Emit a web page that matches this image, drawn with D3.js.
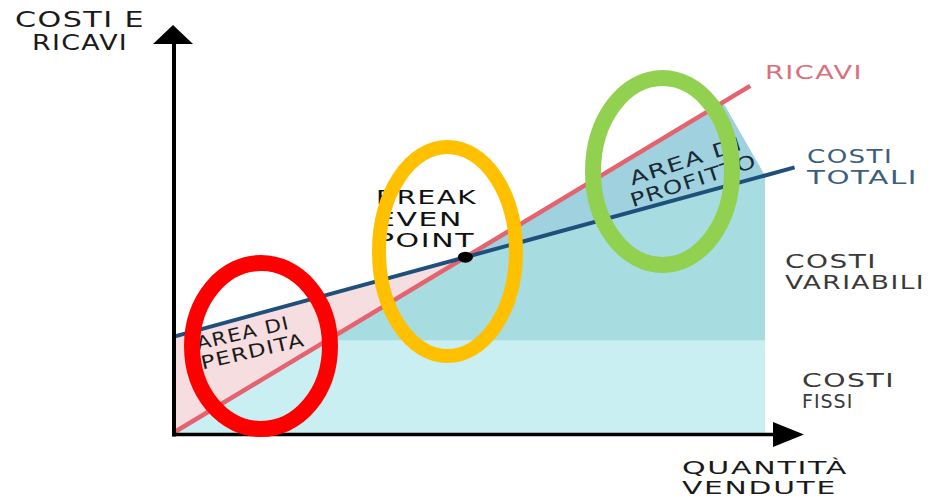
<!DOCTYPE html>
<html lang="it">
<head>
    <meta charset="UTF-8">
    <title>Break Even Point</title>
    <script src="https://cdn.jsdelivr.net/npm/d3@7"></script>
    <style>
        body { margin: 0; background: #fff; }
        svg { display: block; font-family: "DejaVu Sans", sans-serif; }
    </style>
</head>
<body>
    <div id="chart"></div>

    <script>
        // Valori (quantità 0-100, valore 0-100)
        const quantityDomain = [0, 100];
        const valueDomain = [0, 100];
        const ricavi = [{q: 0, v: 0}, {q: 97.5, v: 97.5}];
        const costiTotali = [{q: 0, v: 27}, {q: 105, v: 74.6}];
        const costiFissi = [{q: 0, v: 26}, {q: 100, v: 26}];
        // l'area di profitto è tagliata prima del bordo destro
        const taglioProfitto = [92.9, 100];

        const width = 936, height = 498;

        const svg = d3.select("#chart").append("svg")
            .attr("width", width)
            .attr("height", height);

        const x = d3.scaleLinear().domain(quantityDomain).range([173, 765]);
        const y = d3.scaleLinear().domain(valueDomain).range([433, 77]);

        // linee come funzioni lineari
        const ricaviAt = d3.scaleLinear().domain(ricavi.map(d => d.q)).range(ricavi.map(d => d.v));
        const costiAt = d3.scaleLinear().domain(costiTotali.map(d => d.q)).range(costiTotali.map(d => d.v));
        const fissiAt = d3.scaleLinear().domain(costiFissi.map(d => d.q)).range(costiFissi.map(d => d.v));

        // break even: intersezione delle due rette
        const sR = (ricavi[1].v - ricavi[0].v) / (ricavi[1].q - ricavi[0].q);
        const sC = (costiTotali[1].v - costiTotali[0].v) / (costiTotali[1].q - costiTotali[0].q);
        const bepQ = (costiTotali[0].v - ricavi[0].v) / (sR - sC);
        const bep = {q: bepQ, v: ricaviAt(bepQ)};

        // costi fissi
        svg.append("rect")
            .attr("x", x(quantityDomain[0]))
            .attr("y", y(costiFissi[0].v))
            .attr("width", x(quantityDomain[1]) - x(quantityDomain[0]))
            .attr("height", y(0) - y(costiFissi[0].v))
            .attr("fill", "#c9eff3");

        // costi variabili
        const area = d3.area()
            .x(d => x(d))
            .y0(d => y(fissiAt(d)))
            .y1(d => y(costiAt(d)));

        svg.append("path")
            .attr("d", area(quantityDomain))
            .attr("fill", "#a7dce1");

        // area di perdita
        svg.append("path")
            .attr("d", d3.area()
                .x(d => x(d))
                .y0(d => y(ricaviAt(d)))
                .y1(d => y(costiAt(d)))([0, bep.q]))
            .attr("fill", "#f5dde0");

        // area di profitto
        const profitto = [
            [bep.q, bep.v],
            [taglioProfitto[0], ricaviAt(taglioProfitto[0])],
            [taglioProfitto[1], costiAt(taglioProfitto[1])]
        ];
        svg.append("path")
            .attr("d", d3.line().x(d => x(d[0])).y(d => y(d[1]))(profitto) + "Z")
            .attr("fill", "#9fd2de");

        const line = d3.line().x(d => x(d.q)).y(d => y(d.v));

        svg.append("path")
            .attr("d", line(ricavi))
            .attr("fill", "none")
            .attr("stroke", "#e5636f")
            .attr("stroke-width", 4.5);

        svg.append("path")
            .attr("d", line(costiTotali))
            .attr("fill", "none")
            .attr("stroke", "#1f4f7b")
            .attr("stroke-width", 4);

        svg.append("ellipse")
            .attr("cx", x(bep.q))
            .attr("cy", y(bep.v))
            .attr("rx", 7.5)
            .attr("ry", 5.5)
            .attr("fill", "#000");

        // assi
        const xAxisScale = d3.scaleLinear().domain([0, 1]).range([172, 780]);
        svg.append("g")
            .attr("transform", "translate(0,434)")
            .call(d3.axisBottom(xAxisScale).tickValues([]).tickSizeOuter(0))
            .select(".domain").attr("stroke", "#000").attr("stroke-width", 3.5);

        const yAxisScale = d3.scaleLinear().domain([0, 1]).range([436, 40]);
        svg.append("g")
            .attr("transform", "translate(173.5,0)")
            .call(d3.axisLeft(yAxisScale).tickValues([]).tickSizeOuter(0))
            .select(".domain").attr("stroke", "#000").attr("stroke-width", 4);

        svg.append("path")
            .attr("d", "M173,25L193,44L153,44Z")
            .attr("fill", "#000");
        svg.append("path")
            .attr("d", "M804,434.5L773,422L773,447Z")
            .attr("fill", "#000");

        // testi
        function label(lines, opts) {
            const g = svg.append("g")
                .attr("transform", opts.transform || null);
            lines.forEach((t, i) => {
                g.append("text")
                    .attr("x", opts.x + (opts.dx ? opts.dx[i] : 0))
                    .attr("y", opts.y + i * opts.lh)
                    .attr("text-anchor", opts.anchor || "start")
                    .attr("font-size", opts.size)
                    .attr("fill", opts.color)
                    .attr("letter-spacing", 1)
                    .attr("textLength", opts.len && opts.len[i] ? opts.len[i] : null)
                    .attr("lengthAdjust", "spacingAndGlyphs")
                    .text(t);
            });
        }

        label(["COSTI E", "RICAVI"], {x: 80, y: 27, lh: 23, size: 21, color: "#1a1a1a", anchor: "middle", len: [130, 96]});
        label(["RICAVI"], {x: 765, y: 79, lh: 0, size: 19, color: "#d9707b", len: [98]});
        label(["COSTI", "TOTALI"], {x: 807, y: 163, lh: 21, size: 19, color: "#3d5f7e", len: [86, 111]});
        label(["COSTI", "VARIABILI"], {x: 785, y: 268, lh: 21, size: 19, color: "#3a3a3a", len: [92, 140]});
        label(["COSTI", "FISSI"], {x: 802, y: 387, lh: 21, size: 19, color: "#3a3a3a", len: [93, null]});
        label(["QUANTITÀ", "VENDUTE"], {x: 682, y: 474, lh: 19.5, size: 17.5, color: "#1a1a1a", len: [166, 155]});
        label(["BREAK", "EVEN", "POINT"], {x: 376, y: 204, lh: 21.5, size: 19, color: "#111", len: [101, 87, 99]});
        label(["AREA DI", "PERDITA"], {x: 0, y: 0, lh: 20, size: 18.5, color: "#1a1a1a", len: [95, 106],
            transform: "translate(198,350) rotate(-13)"});
        label(["AREA DI", "PROFITTO"], {x: 0, y: 0, lh: 21, size: 19, color: "#1a2a35", len: [118, 132], dx: [2, -4],
            transform: "translate(630,186) rotate(-18)"});

        // evidenziazioni
        const cerchi = [
            {cx: 261, cy: 346, rx: 69, ry: 83, w: 16, c: "#ff0000"},
            {cx: 447.5, cy: 251.5, rx: 68.5, ry: 104.5, w: 14, c: "#ffc000"},
            {cx: 662.5, cy: 171.5, rx: 69.5, ry: 93.5, w: 16, c: "#92d050"}
        ];
        svg.selectAll("ellipse.hl").data(cerchi).join("ellipse")
            .attr("class", "hl")
            .attr("cx", d => d.cx)
            .attr("cy", d => d.cy)
            .attr("rx", d => d.rx)
            .attr("ry", d => d.ry)
            .attr("fill", "none")
            .attr("stroke", d => d.c)
            .attr("stroke-width", d => d.w);
    </script>
</body>
</html>
